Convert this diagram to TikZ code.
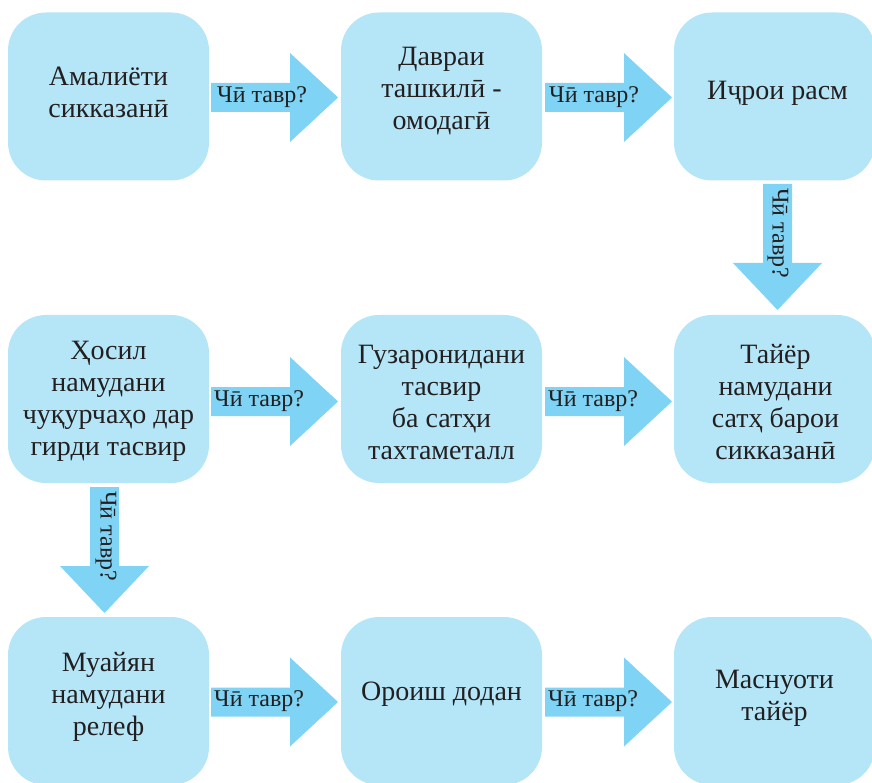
\documentclass[tikz,border=0pt]{standalone}
\usepackage{fontspec}
\setmainfont{Liberation Serif}
\definecolor{boxc}{HTML}{B4E6F8}
\definecolor{arrc}{HTML}{7FD4F5}
\definecolor{txtc}{HTML}{231F20}
\newcommand\harr[2]{%
  \fill[arrc] (#1,{#2-14.5}) -- ({#1+79},{#2-14.5}) -- ({#1+79},{#2-44.5}) -- ({#1+127},#2)
    -- ({#1+79},{#2+44.5}) -- ({#1+79},{#2+14.5}) -- (#1,{#2+14.5}) -- cycle;}
\newcommand\varr[2]{%
  \fill[arrc] ({#1-14.5},#2) -- ({#1+14.5},#2) -- ({#1+14.5},{#2+79}) -- ({#1+44.5},{#2+79})
    -- (#1,{#2+126}) -- ({#1-44.5},{#2+79}) -- ({#1-14.5},{#2+79}) -- cycle;}
\begin{document}
\begin{tikzpicture}[x=1pt,y=-1pt,
  stepbox/.style={fill=boxc, rounded corners=38pt, minimum width=201pt, minimum height=168pt, inner sep=0pt},
  steptext/.style={align=center, font=\fontsize{28}{32}\selectfont, text=txtc, inner sep=0pt},
  arrtext/.style={font=\fontsize{24}{28}\selectfont, text=txtc, inner sep=0pt}]
\useasboundingbox (0,0) rectangle (872,783);
% boxes
\node[stepbox] (b1) at (108.5,96.5) {};
\node[stepbox] (b2) at (441.5,96.5) {};
\node[stepbox] (b3) at (774.5,96.5) {};
\node[stepbox] (b4) at (108.5,399) {};
\node[stepbox] (b5) at (441.5,399) {};
\node[stepbox] (b6) at (774.5,399) {};
\node[stepbox] (b7) at (108.5,701) {};
\node[stepbox] (b8) at (441.5,701) {};
\node[stepbox] (b9) at (774.5,701) {};
% box texts
\node[steptext] (t1) at ([yshift=4pt]b1.center) {Амалиёти\\сикказанӣ};
\node[steptext] (t2) at ([yshift=5pt]b2.center) {Давраи\\ташкилӣ -\\омодагӣ};
\node[steptext] (t3) at ([xshift=3pt,yshift=3pt]b3.center) {Иҷрои расм};
\node[steptext] (t4) at ([yshift=-2pt]b4.center) {Ҳосил\\намудани\\чуқурчаҳо дар\\гирди тасвир};
\node[steptext] (t5) at ([yshift=-3pt]b5.center) {Гузаронидани\\тасвир\\ба сатҳи\\тахтаметалл};
\node[steptext] (t6) at ([xshift=1pt,yshift=-3pt]b6.center) {Тайёр\\намудани\\сатҳ барои\\сикказанӣ};
\node[steptext] (t7) at ([yshift=4pt]b7.center) {Муайян\\намудани\\релеф};
\node[steptext] (t8) at ([yshift=7pt]b8.center) {Ороиш додан};
\node[steptext] (t9) at ([yshift=3pt]b9.center) {Маснуоти\\тайёр};
% arrows
\harr{211}{97.5}
\harr{545}{97.5}
\harr{211}{401.5}
\harr{545}{401.5}
\harr{211}{702}
\harr{545}{702}
\varr{777.5}{184}
\varr{104.5}{487}
% arrow labels
\node[arrtext, anchor=west] (q1) at (217,97) {Чӣ тавр?};
\node[arrtext, anchor=west] (q2) at (549,97) {Чӣ тавр?};
\node[arrtext, anchor=west] (q3) at (214,401) {Чӣ тавр?};
\node[arrtext, anchor=west] (q4) at (548,401) {Чӣ тавр?};
\node[arrtext, anchor=west] (q5) at (214,701.5) {Чӣ тавр?};
\node[arrtext, anchor=west] (q6) at (548,701.5) {Чӣ тавр?};
\node[arrtext, anchor=west, rotate=-90] (q7) at (778,188) {Чӣ тавр?};
\node[arrtext, anchor=west, rotate=-90] (q8) at (106,491) {Чӣ тавр?};
\end{tikzpicture}
\end{document}
